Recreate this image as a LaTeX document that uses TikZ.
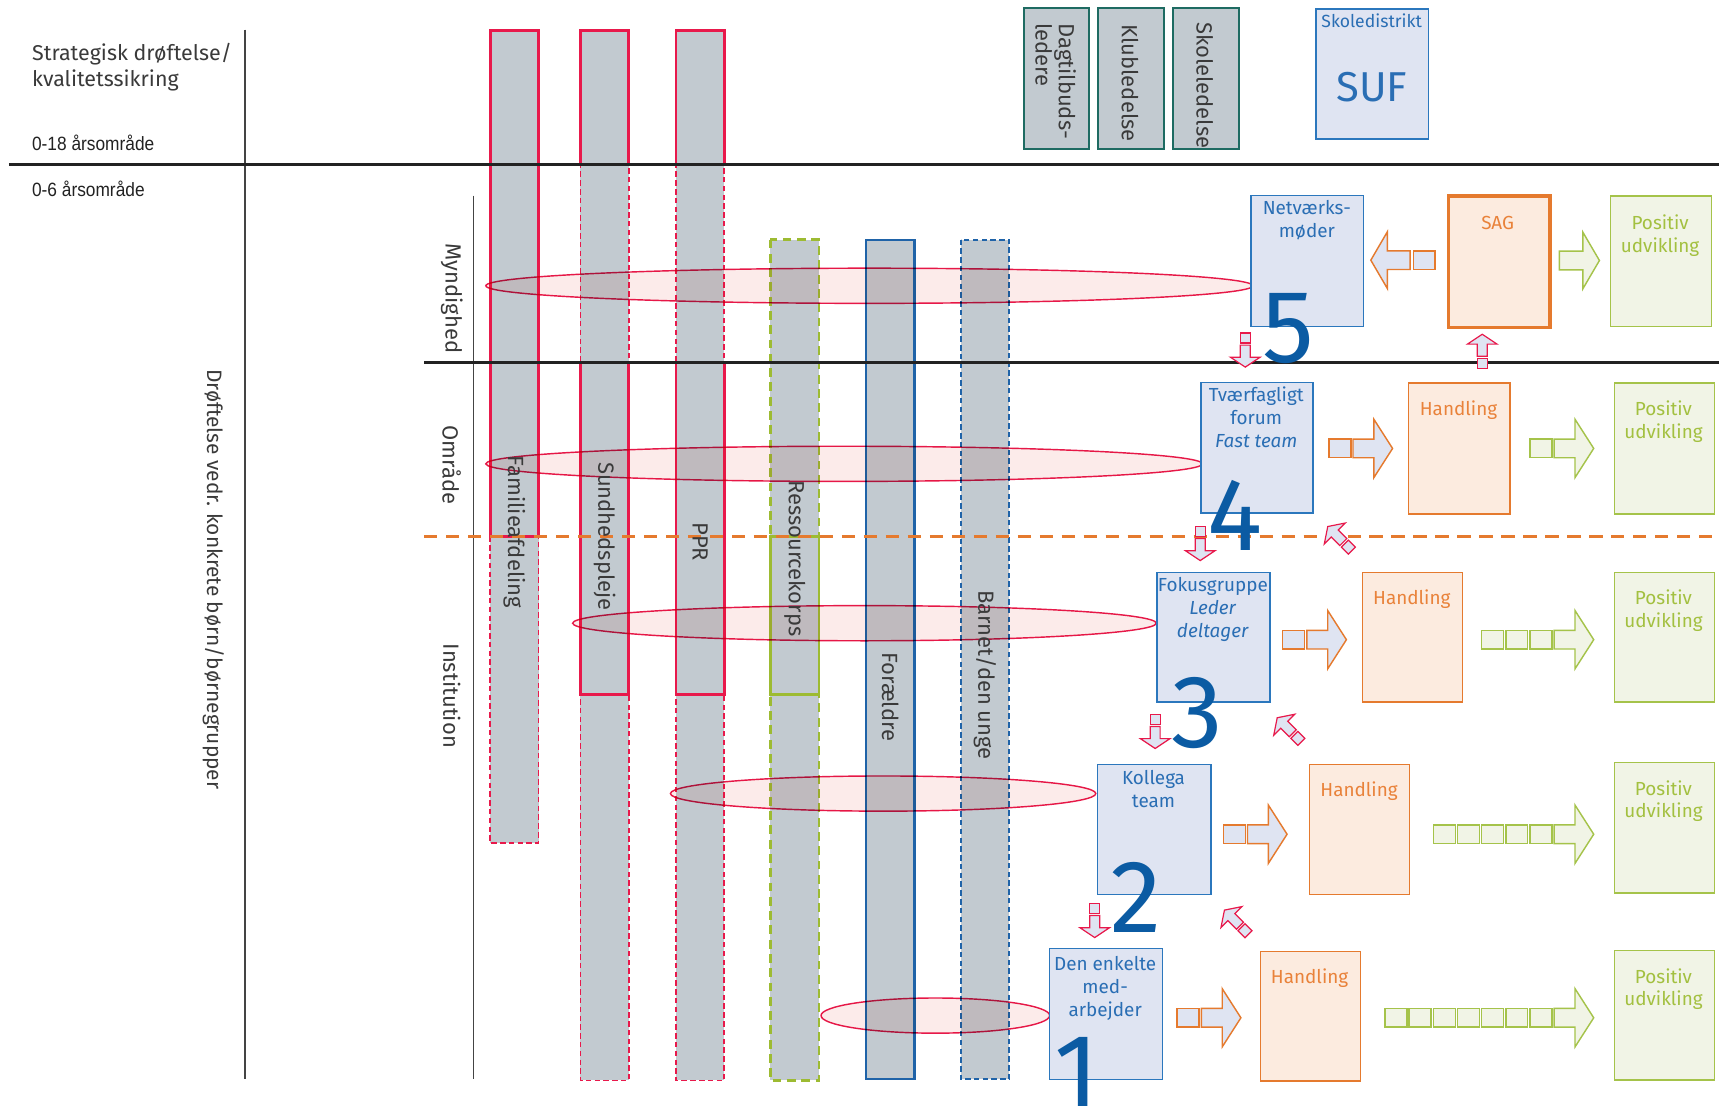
\documentclass[tikz,border=0pt]{standalone}
\usepackage{fontspec}
\setmainfont{Fira Sans}
\newfontfamily\narrowfont[FakeStretch=0.9]{Liberation Sans}
\definecolor{colgray}{HTML}{C2CAD0}
\definecolor{cred}{HTML}{E8194B}
\definecolor{cgreen}{HTML}{9DBB32}
\definecolor{cblue}{HTML}{1F63A8}
\definecolor{boxblue}{HTML}{2B77BD}
\definecolor{boxfill}{HTML}{DFE4F2}
\definecolor{txtblue}{HTML}{2A6EB4}
\definecolor{numblue}{HTML}{0B5BA3}
\definecolor{corange}{HTML}{E57A2E}
\definecolor{orfill}{HTML}{FCEBDF}
\definecolor{ortxt}{HTML}{E9823A}
\definecolor{pgreen}{HTML}{A5C34A}
\definecolor{pgfill}{HTML}{F1F4E6}
\definecolor{pgtxt}{HTML}{A3C040}
\definecolor{ellfill}{HTML}{FCEBEA}
\definecolor{topteal}{HTML}{1E6B62}
\definecolor{labgray}{HTML}{3A3A3A}
\definecolor{linegray}{HTML}{222222}
\definecolor{thingray}{HTML}{444444}
\newcommand\pinkarrow[3]{%
  \begin{scope}[shift={(#1,#2)}, rotate=#3]
    \filldraw[pinkst] (-4.5,-15.5) rectangle (4.5,-6.5);
    \filldraw[pinkst] (-4.5,-4.5) -- (4.5,-4.5) -- (4.5,6.5) -- (13.5,6.5) -- (0,15.5) -- (-13.5,6.5) -- (-4.5,6.5) -- cycle;
  \end{scope}}
\newcommand\rarrow[3]{% xstart, ycenter, style
  \filldraw[#3] (#1,#2-8.5) -- (#1+19,#2-8.5) -- (#1+19,#2-26.5) -- (#1+36,#2) -- (#1+19,#2+26.5) -- (#1+19,#2+8.5) -- (#1,#2+8.5) -- cycle;}
\newcommand\sqbox[3]{% xstart, ycenter, style
  \filldraw[#3] (#1,#2-8.5) rectangle (#1+20,#2+8.5);}
\begin{document}
\begin{tikzpicture}[x=1pt,y=-1pt,
  bbox/.style={draw=boxblue, fill=boxfill, line width=1.3pt, inner sep=0pt, anchor=north west},
  obox/.style={draw=corange, fill=orfill, line width=1.3pt, inner sep=0pt, anchor=north west},
  gbox/.style={draw=pgreen, fill=pgfill, line width=1.5pt, inner sep=0pt, anchor=north west},
  tbox/.style={draw=topteal, fill=colgray, line width=1.8pt, inner sep=0pt, anchor=north west},
  btxt/.style={text=txtblue, font=\fontsize{17.2}{20.7}\selectfont, align=center, inner sep=0pt, anchor=base},
  otxt/.style={text=ortxt, font=\fontsize{17.2}{20.7}\selectfont, align=center, inner sep=0pt, anchor=base},
  gtxt/.style={text=pgtxt, font=\fontsize{17.2}{20.7}\selectfont, align=center, inner sep=0pt, anchor=base},
  labtxt/.style={text=labgray, font=\fontsize{20}{21}\selectfont, inner sep=0pt, rotate=-90},
  num/.style={text=numblue, font=\fontsize{94}{94}\selectfont, inner sep=0pt, anchor=base},
  pinkst/.style={draw=cred, fill=boxfill, line width=1.1pt},
  orarr/.style={draw=corange, fill=boxfill, line width=1.3pt},
  grarr/.style={draw=pgreen, fill=pgfill, line width=1.3pt},
  redsolid/.style={draw=cred, line width=2.4pt},
  reddash/.style={draw=cred, line width=1.5pt, dash pattern=on 5pt off 3pt},
  greendash/.style={draw=cgreen, line width=2.4pt, dash pattern=on 8pt off 5pt},
  greensolid/.style={draw=cgreen, line width=2.4pt},
  bluesolid/.style={draw=cblue, line width=2pt},
  bluedash/.style={draw=cblue, line width=2pt, dash pattern=on 5pt off 3pt},
  ell/.style={fill=ellfill, draw=cred, line width=1.3pt},
]
\useasboundingbox (0,0) rectangle (1564,1007);
\fill[white] (0,0) rectangle (1564,1007);

% columns
\fill[colgray] (446,28) rectangle (490,767);
\draw[reddash] (446,488) rectangle (490,767);
\draw[redsolid] (446,28) rectangle (490,488);

\fill[colgray] (528,28) rectangle (572,983);
\draw[reddash] (528,28) rectangle (572,983);
\draw[redsolid] (528,28) rectangle (572,150);
\draw[redsolid] (528,330) rectangle (572,632);

\fill[colgray] (615,28) rectangle (659,983);
\draw[reddash] (615,28) rectangle (659,983);
\draw[redsolid] (615,28) rectangle (659,150);
\draw[redsolid] (615,330) rectangle (659,632);

\fill[colgray] (701,218) rectangle (745,983);
\draw[greendash] (701,218) rectangle (745,983);
\draw[greensolid] (701,488) rectangle (745,632);

\fill[colgray] (788,218) rectangle (832,982);
\draw[bluesolid] (788,218) rectangle (832,982);

\fill[colgray] (874,218) rectangle (918,982);
\draw[bluedash] (874,218) rectangle (918,982);

% ellipses
\begin{scope}[blend mode=multiply]
\filldraw[ell] (791,260) ellipse [x radius=349, y radius=16];
\filldraw[ell] (768,422) ellipse [x radius=326, y radius=16];
\filldraw[ell] (786.5,567) ellipse [x radius=265.5, y radius=16];
\filldraw[ell] (803.5,722) ellipse [x radius=193.5, y radius=16];
\filldraw[ell] (851,924) ellipse [x radius=104, y radius=16];
\end{scope}

% lines
\draw[thingray, line width=1.3pt] (223,27) -- (223,982);
\draw[thingray, line width=1.3pt] (431,178) -- (431,982);
\draw[linegray, line width=2.6pt] (8,150) -- (1564,150);
\draw[linegray, line width=2.6pt] (386,330) -- (1564,330);
\draw[corange, line width=2.6pt, dash pattern=on 12pt off 8pt] (386,488) -- (1564,488);

% left texts
\node[anchor=base west, inner sep=0pt, text=labgray, font=\fontsize{19.5}{24}\selectfont] (s1) at (29,55) {Strategisk drøftelse/};
\node[anchor=base west, inner sep=0pt, text=labgray, font=\fontsize{19.5}{24}\selectfont] (s2) at (29,79) {kvalitetssikring};
\node[anchor=base west, inner sep=0pt, text=linegray, font=\narrowfont\fontsize{17.5}{20}\selectfont] (a18) at (29,137) {0-18 årsområde};
\node[anchor=base west, inner sep=0pt, text=linegray, font=\narrowfont\fontsize{17.5}{20}\selectfont] (a6) at (29,179) {0-6 årsområde};
\node[labtxt, font=\fontsize{19}{22}\selectfont] (dro) at (194,527) {Drøftelse vedr. konkrete børn/børnegrupper};
\node[labtxt] (myn) at (411,271.5) {Myndighed};
\node[labtxt] (omr) at (411,423) {Område};
\node[labtxt] (ins) at (411,633) {Institution};

% column labels
\node[labtxt] (lfam) at (468,484) {Familieafdeling};
\node[labtxt] (lsun) at (550,488) {Sundhedspleje};
\node[labtxt] (lppr) at (637,493) {PPR};
\node[labtxt] (lres) at (723,508) {Ressourcekorps};
\node[labtxt] (lfor) at (810,634) {Forældre};
\node[labtxt] (lbar) at (896,614) {Barnet/den unge};

% top boxes
\node[tbox, minimum width=59.5pt, minimum height=127.7pt] (dag) at (930.5,6.7) {};
\node[tbox, minimum width=59.5pt, minimum height=127.7pt] (klu) at (998.5,6.7) {};
\node[tbox, minimum width=59.8pt, minimum height=127.7pt] (sko) at (1066.4,6.7) {};
\node[labtxt, anchor=west, align=left] (tdag) at (960.5,21) {Dagtilbuds-\\ledere};
\node[labtxt, anchor=west] (tklu) at (1028,22) {Klubledelse};
\node[labtxt, anchor=west] (tsko) at (1096,20) {Skoleledelse};

\node[bbox, minimum width=102.4pt, minimum height=118.2pt] (suf) at (1196.6,7.6) {};
\node[btxt, font=\fontsize{16}{19}\selectfont] (tskd) at (1248,24.9) {Skoledistrikt};
\node[btxt, font=\fontsize{38}{40}\selectfont] (tsuf) at (1248,92.5) {SUF};

% row 5
\node[bbox, minimum width=102.6pt, minimum height=119pt] (b5) at (1137.4,177.4) {};
\node[btxt] (t5) at (1189,216.3) {Netværks-\\møder};
\node[obox, line width=3pt, minimum width=92.4pt, minimum height=119.6pt] (sag) at (1316.4,176.8) {};
\node[otxt] (tsag) at (1362.6,208.4) {SAG};
\node[gbox, minimum width=92pt, minimum height=119pt] (p5) at (1464.4,177.4) {};
\node[gtxt] (tp5) at (1510.4,229.4) {Positiv\\udvikling};
\filldraw[orarr] (1286,228.2) rectangle (1305.7,245.2);
\filldraw[orarr] (1283,228.2) -- (1262.3,228.2) -- (1262.3,210.8) -- (1247.2,236.7) -- (1262.3,262.6) -- (1262.3,245.2) -- (1283,245.2) -- cycle;
\filldraw[grarr] (1418.8,228.4) -- (1440.1,228.4) -- (1440.1,211.2) -- (1455.2,237) -- (1440.1,262.8) -- (1440.1,245.6) -- (1418.8,245.6) -- cycle;

% row 4
\node[bbox, minimum width=102pt, minimum height=118.6pt] (b4) at (1092,347.3) {};
\node[btxt] (t4) at (1143,406.9) {Tværfagligt\\forum\\\textit{Fast team}};
\node[obox, minimum width=92pt, minimum height=119pt] (h4) at (1281,348) {};
\node[otxt] (th4) at (1327,378) {Handling};
\node[gbox, minimum width=91pt, minimum height=119pt] (p4) at (1468,348) {};
\node[gtxt] (tp4) at (1513.5,398.7) {Positiv\\udvikling};
\sqbox{1209}{408}{orarr}
\rarrow{1231}{408}{orarr}
\sqbox{1392}{408}{grarr}
\rarrow{1414}{408}{grarr}

% row 3
\node[bbox, minimum width=103pt, minimum height=118pt] (b3) at (1052,520) {};
\node[btxt] (t3) at (1103.5,579.9) {Fokusgruppe\\\textit{Leder}\\\textit{deltager}};
\node[obox, minimum width=91pt, minimum height=118pt] (h3) at (1239,520) {};
\node[otxt] (th3) at (1284.5,550) {Handling};
\node[gbox, minimum width=91pt, minimum height=118pt] (p3) at (1468,520) {};
\node[gtxt] (tp3) at (1513.5,570.7) {Positiv\\udvikling};
\sqbox{1167}{582}{orarr}
\rarrow{1189}{582}{orarr}
\foreach \i in {0,1,2} {\sqbox{1348+22*\i}{582}{grarr}}
\rarrow{1414}{582}{grarr}

% row 2
\node[bbox, minimum width=103pt, minimum height=118pt] (b2) at (998,695) {};
\node[btxt] (t2) at (1049.5,734.7) {Kollega\\team};
\node[obox, minimum width=91pt, minimum height=118pt] (h2) at (1191,695) {};
\node[otxt] (th2) at (1236.5,725) {Handling};
\node[gbox, minimum width=91pt, minimum height=119pt] (p2) at (1468,693) {};
\node[gtxt] (tp2) at (1513.5,744.2) {Positiv\\udvikling};
\sqbox{1113}{759}{orarr}
\rarrow{1135}{759}{orarr}
\foreach \i in {0,...,4} {\sqbox{1304+22*\i}{759}{grarr}}
\rarrow{1414}{759}{grarr}

% row 1
\node[bbox, minimum width=103pt, minimum height=119pt] (b1) at (954,862.5) {};
\node[btxt] (t1) at (1005.5,924.4) {Den enkelte\\med-\\arbejder};
\node[obox, minimum width=91pt, minimum height=118pt] (h1) at (1146,865) {};
\node[otxt] (th1) at (1191.5,895) {Handling};
\node[gbox, minimum width=91pt, minimum height=118pt] (p1) at (1468,864) {};
\node[gtxt] (tp1) at (1513.5,915.2) {Positiv\\udvikling};
\sqbox{1071}{926}{orarr}
\rarrow{1093}{926}{orarr}
\foreach \i in {0,...,6} {\sqbox{1260+22*\i}{926}{grarr}}
\rarrow{1414}{926}{grarr}

% pink arrows
\pinkarrow{1133}{318.5}{0}
\pinkarrow{1348.6}{319.6}{180}
\pinkarrow{1092}{494.5}{0}
\pinkarrow{1051}{665.5}{0}
\pinkarrow{996}{837.5}{0}
\pinkarrow{1219}{490}{-135}
\pinkarrow{1173}{664}{-135}
\pinkarrow{1125}{839}{-135}

% numbers
\node[num] (n5) at (1172,330) {5};
\node[num] (n4) at (1124,500.5) {4};
\node[num] (n3) at (1089,680) {3};
\node[num] (n2) at (1034,848) {2};
\node[num] (n1) at (980,1007) {1};
\end{tikzpicture}
\end{document}
